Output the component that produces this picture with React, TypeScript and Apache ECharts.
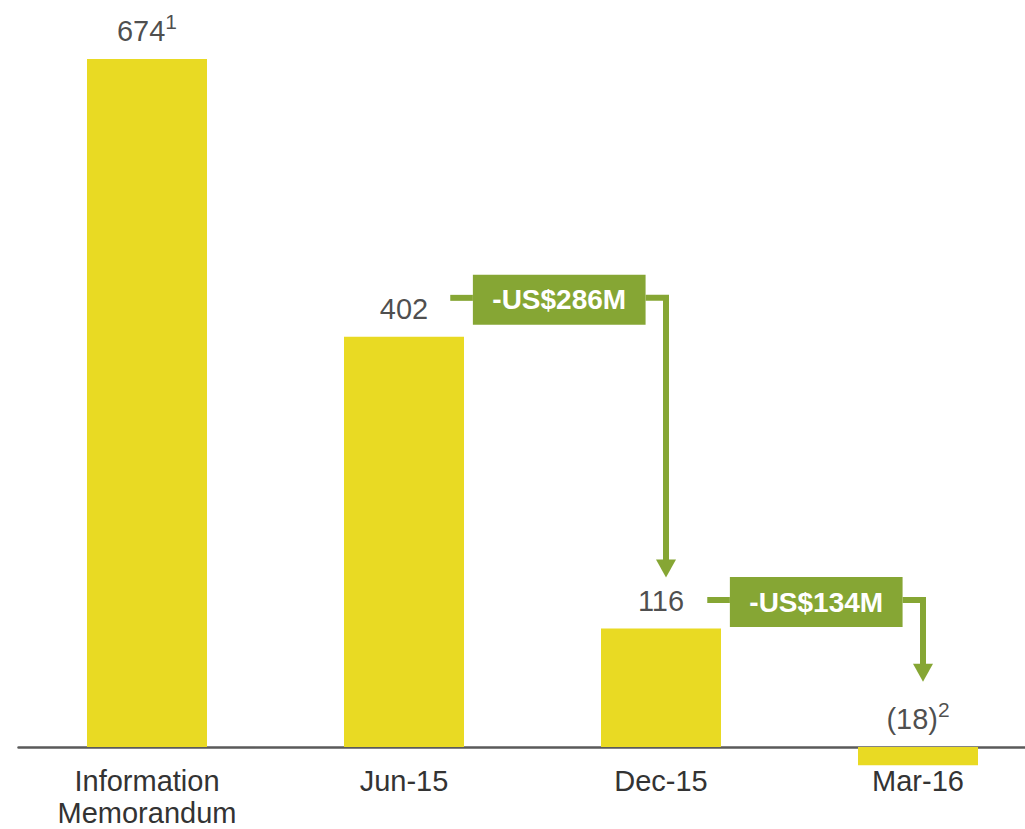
import React, { useEffect, useRef } from "react";
import * as echarts from "echarts";

const categories = ["Information\nMemorandum", "Jun-15", "Dec-15", "Mar-16"];
const values = [674, 402, 116, -18];
const valueLabels = ["674", "402", "116", "(18)"];
const footnotes = ["1", "", "", "2"];
// callouts: from category index -> to category index, text, line level (data units), arrow tip (data units)
const calloutFrom = [1, 2];
const calloutTo = [2, 3];
const calloutText = ["-US$286M", "-US$134M"];
const calloutLevel = [440, 144];
const calloutTip = [166, 64];

const YELLOW = "#E9DA23";
const GREEN = "#86A634";
const FONT = "'Liberation Sans', Arial, Helvetica, sans-serif";

export default function App() {
  const ref = useRef<HTMLDivElement>(null);
  useEffect(() => {
    if (!ref.current) return;
    const chart = echarts.init(ref.current, undefined, { renderer: "svg" });
    chart.setOption({
      animation: false,
      textStyle: { fontFamily: FONT },
      grid: {
        left: 18.5,
        right: -21.5,
        top: 32.44,
        bottom: 82,
        containLabel: false,
        outerBoundsMode: "none",
      },
      xAxis: {
        type: "category",
        data: categories,
        axisLine: { onZero: true, lineStyle: { color: "#5a5a5a", width: 2.5 } },
        axisTick: { show: false },
        axisLabel: {
          color: "#333",
          fontSize: 29,
          lineHeight: 32,
          margin: 18,
          fontFamily: FONT,
        },
      },
      yAxis: {
        type: "value",
        min: 0,
        max: 700,
        show: false,
        splitLine: { show: false },
      },
      series: [
        {
          type: "bar",
          data: values,
          barWidth: 120,
          clip: false,
          itemStyle: { color: YELLOW },
          z: 2,
        },
        {
          type: "scatter",
          data: values.map((v, i) => [i, Math.max(v, 0)]),
          symbolSize: 0,
          clip: false,
          z: 3,
          label: {
            show: true,
            position: "top",
            distance: 8,
            formatter: (p: any) => {
              const i = p.dataIndex;
              return footnotes[i]
                ? `{a|${valueLabels[i]}}{b|${footnotes[i]}}`
                : `{a|${valueLabels[i]}}`;
            },
            rich: {
              a: { fontSize: 29, color: "#1e1e1e", fontFamily: FONT, lineHeight: 40 },
              b: { fontSize: 21, color: "#1e1e1e", fontFamily: FONT, verticalAlign: "top", lineHeight: 20 },
            },
          },
        },
      ],
    });

    const toPx = (c: number, v: number) =>
      chart.convertToPixel({ xAxisIndex: 0, yAxisIndex: 0 }, [c, v]) as number[];
    const step = toPx(1, 0)[0] - toPx(0, 0)[0];
    const graphics: any[] = [];
    calloutFrom.forEach((f, k) => {
      const t = calloutTo[k];
      const [fx, ly] = toPx(f, calloutLevel[k]);
      const [tx, tipY] = toPx(t, calloutTip[k]);
      const vx = tx + 5;
      const startX = fx + 0.18 * step;
      const boxL = fx + 0.268 * step;
      const boxR = fx + 0.94 * step;
      const boxH = 50;
      const lw = 6;
      const headH = 18;
      const headW = 20;
      graphics.push(
        {
          type: "polyline",
          shape: { points: [[startX, ly], [boxL, ly]] },
          style: { stroke: GREEN, lineWidth: lw, fill: null },
          z: 10,
        },
        {
          type: "polyline",
          shape: { points: [[boxR, ly], [vx, ly], [vx, tipY - headH + 1]] },
          style: { stroke: GREEN, lineWidth: lw, fill: null, lineJoin: "miter" },
          z: 10,
        },
        {
          type: "polygon",
          shape: { points: [[vx - headW / 2, tipY - headH], [vx + headW / 2, tipY - headH], [vx, tipY]] },
          style: { fill: GREEN },
          z: 10,
        },
        {
          type: "rect",
          shape: { x: boxL, y: ly + 2 - boxH / 2, width: boxR - boxL, height: boxH },
          style: { fill: GREEN },
          z: 11,
        },
        {
          type: "text",
          x: (boxL + boxR) / 2,
          y: ly + 2,
          style: {
            text: calloutText[k],
            fill: "#fff",
            font: `bold 28px ${FONT}`,
            align: "center",
            verticalAlign: "middle",
          },
          z: 12,
        }
      );
    });
    chart.setOption({ graphic: graphics });

    return () => chart.dispose();
  }, []);
  return (
    <div
      ref={ref}
      style={{ position: "absolute", left: 0, top: 0, width: 1025, height: 829, background: "#fff" }}
    />
  );
}
